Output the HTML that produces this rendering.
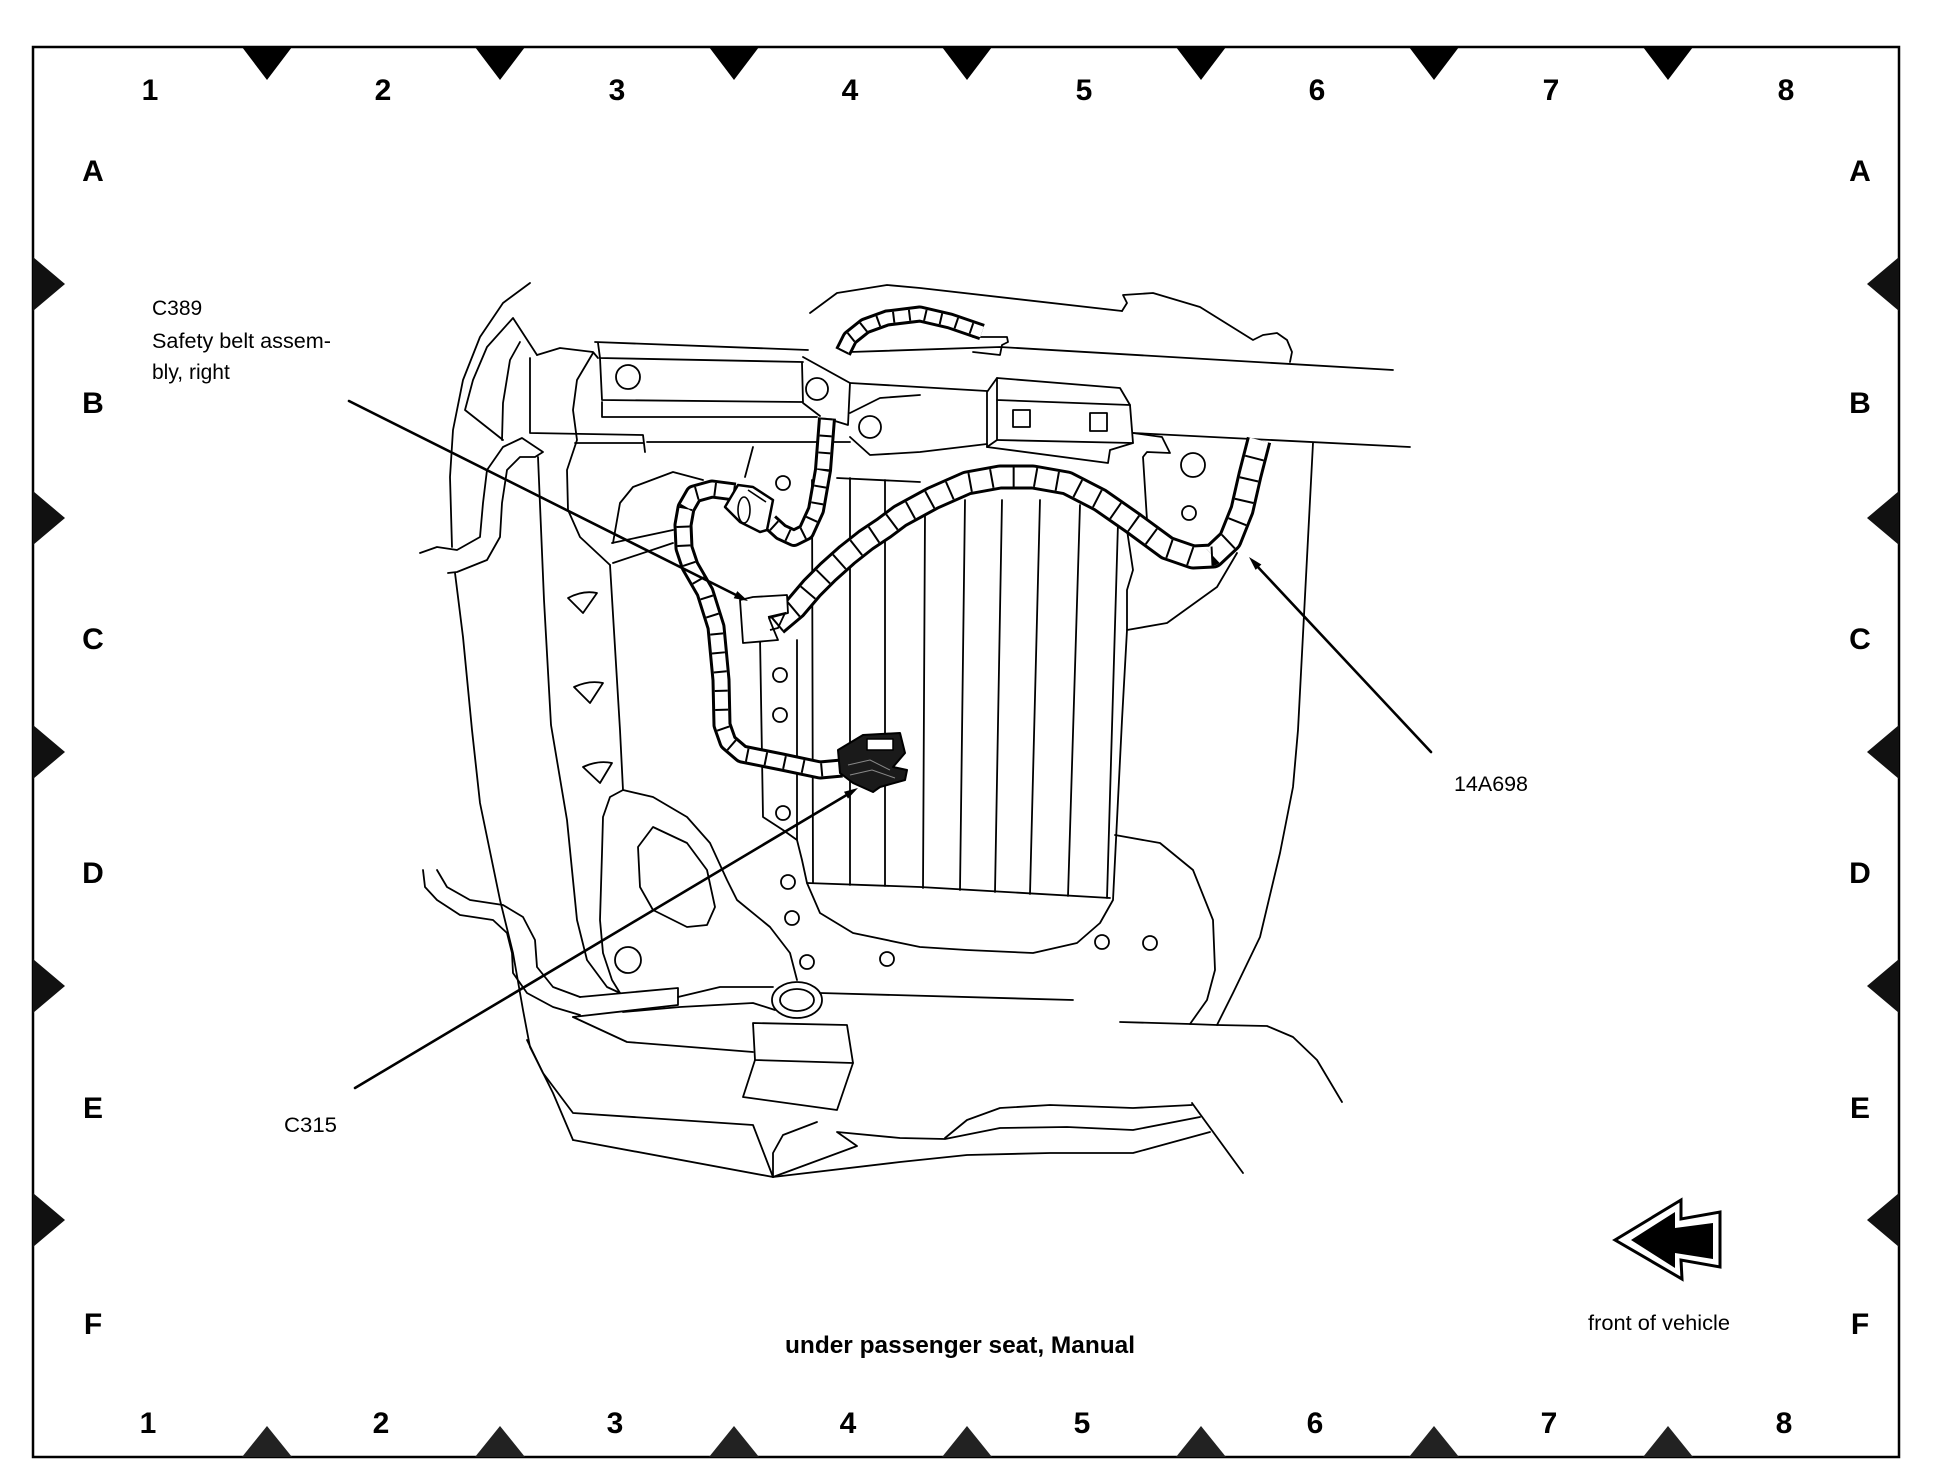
<!DOCTYPE html>
<html><head><meta charset="utf-8"><style>
html,body{margin:0;padding:0;background:#fff;}
svg{display:block;}
text{font-family:"Liberation Sans",Arial,sans-serif;fill:#000;}
.idx{font-size:30px;font-weight:bold;text-anchor:middle;}
.lab{font-size:21px;}
</style></head><body>
<svg width="1936" height="1472" viewBox="0 0 1936 1472" xmlns="http://www.w3.org/2000/svg">
<rect x="0" y="0" width="1936" height="1472" fill="#fff"/>
<!-- frame -->
<rect x="33" y="47" width="1866" height="1410" fill="none" stroke="#000" stroke-width="2.5"/>
<!-- top markers -->
<g fill="#000">
<polygon points="242,47 292,47 267,80"/><polygon points="475,47 525,47 500,80"/><polygon points="709,47 759,47 734,80"/><polygon points="942,47 992,47 967,80"/><polygon points="1176,47 1226,47 1201,80"/><polygon points="1409,47 1459,47 1434,80"/><polygon points="1643,47 1693,47 1668,80"/>
</g>
<g fill="#222">
<polygon points="242,1457 292,1457 267,1426"/><polygon points="475,1457 525,1457 500,1426"/><polygon points="709,1457 759,1457 734,1426"/><polygon points="942,1457 992,1457 967,1426"/><polygon points="1176,1457 1226,1457 1201,1426"/><polygon points="1409,1457 1459,1457 1434,1426"/><polygon points="1643,1457 1693,1457 1668,1426"/>
</g>
<g fill="#111">
<polygon points="33,257 33,311 65,284"/><polygon points="33,491 33,545 65,518"/><polygon points="33,725 33,779 65,752"/><polygon points="33,959 33,1013 65,986"/><polygon points="33,1193 33,1247 65,1220"/>
<polygon points="1899,257 1899,311 1867,284"/><polygon points="1899,491 1899,545 1867,518"/><polygon points="1899,725 1899,779 1867,752"/><polygon points="1899,959 1899,1013 1867,986"/><polygon points="1899,1193 1899,1247 1867,1220"/>
</g>
<!-- index labels -->
<g class="idx">
<text x="150" y="100" class="idx">1</text><text x="383" y="100" class="idx">2</text><text x="617" y="100" class="idx">3</text><text x="850" y="100" class="idx">4</text><text x="1084" y="100" class="idx">5</text><text x="1317" y="100" class="idx">6</text><text x="1551" y="100" class="idx">7</text><text x="1786" y="100" class="idx">8</text>
<text x="148" y="1433" class="idx">1</text><text x="381" y="1433" class="idx">2</text><text x="615" y="1433" class="idx">3</text><text x="848" y="1433" class="idx">4</text><text x="1082" y="1433" class="idx">5</text><text x="1315" y="1433" class="idx">6</text><text x="1549" y="1433" class="idx">7</text><text x="1784" y="1433" class="idx">8</text>
<text x="93" y="181" class="idx">A</text><text x="93" y="413" class="idx">B</text><text x="93" y="649" class="idx">C</text><text x="93" y="883" class="idx">D</text><text x="93" y="1118" class="idx">E</text><text x="93" y="1334" class="idx">F</text>
<text x="1860" y="181" class="idx">A</text><text x="1860" y="413" class="idx">B</text><text x="1860" y="649" class="idx">C</text><text x="1860" y="883" class="idx">D</text><text x="1860" y="1118" class="idx">E</text><text x="1860" y="1334" class="idx">F</text>
</g>

<!-- line art -->
<g fill="none" stroke="#000" stroke-width="1.8" stroke-linejoin="round" stroke-linecap="round">
<polyline points="595,342 808,350"/>
<polyline points="850,352 1000,347 1393,370"/>
<polyline points="598,343 600,358 803,362"/>
<polyline points="600,358 602,400 802,402"/>
<polyline points="602,402 602,417 817,417"/>
<circle cx="628" cy="377" r="12"/>
<polyline points="803,357 850,383 848,425 835,421"/>
<polyline points="820,416 803,403 802,363"/>
<circle cx="817" cy="389" r="11"/>
<polyline points="850,383 987,391"/>
<polyline points="850,413 880,398 920,395"/>
<polyline points="850,437 870,455 920,452 987,444"/>
<circle cx="870" cy="427" r="11"/>
<polygon points="987,392 997,378 1120,388 1130,405 1133,443 1110,450 1108,463 987,447"/>
<polyline points="997,378 997,400 1130,405"/>
<polyline points="997,400 997,440 987,447"/>
<polyline points="997,440 1133,443"/>
<rect x="1013" y="410" width="17" height="17"/>
<rect x="1090" y="413" width="17" height="18"/>
<polyline points="647,442 850,442"/>
<polyline points="1133,433 1410,447"/>
<polyline points="530,358 530,433 643,435 645,452"/>
<polyline points="575,443 643,443"/>
<polyline points="537,355 560,348 593,352 598,358"/>
<polyline points="593,353 577,380 573,410 577,440 567,470 568,510 580,537 610,565"/>
<polyline points="538,457 544,600 551,725 567,820 577,920 587,960 607,987 620,993"/>
<polyline points="610,565 620,730 623,790"/>
<polyline points="612,543 673,530"/>
<polyline points="613,563 673,543"/>
<polyline points="613,543 620,503 633,487 673,472 703,480"/>
<polyline points="530,283 503,303 480,337 463,380 453,430 450,477 452,547"/>
<polyline points="537,355 513,318 487,347 473,380 465,410 503,440"/>
<polyline points="520,342 510,360 503,403 502,440"/>
<polyline points="420,553 437,547 457,550 480,537 483,503 487,470 503,447 522,438 543,452 535,457 520,457 507,470 502,503 500,537 487,560 457,572 448,573"/>
<polyline points="455,573 463,637 472,730 480,803 500,900 513,953 523,1010 530,1047 553,1093 573,1140"/>
<polyline points="423,870 425,887 437,900 460,915 493,920 507,933 512,953 513,973 527,993 553,1007 580,1015"/>
<polyline points="437,870 447,887 470,900 503,905 523,917 535,940 537,967 553,987 580,997"/>
<polyline points="580,997 678,988 678,1005 573,1017"/>
<polyline points="678,997 720,987 773,987"/>
<ellipse cx="797" cy="1000" rx="25" ry="18"/>
<ellipse cx="797" cy="1000" rx="17" ry="11"/>
<polyline points="820,993 1073,1000"/>
<polyline points="623,1012 680,1007 753,1003 775,1010"/>
<polyline points="573,1017 627,1042 753,1052"/>
<polygon points="753,1023 847,1025 853,1063 755,1060"/>
<polyline points="755,1060 743,1097 837,1110 853,1063"/>
<polyline points="573,1140 773,1177 857,1146 837,1132 900,1138 945,1139 1000,1128 1067,1127 1133,1130 1200,1117"/>
<polyline points="527,1040 543,1073 573,1113 753,1125 773,1177"/>
<polyline points="817,1122 783,1135 773,1153 773,1177"/>
<polyline points="773,1177 900,1162 967,1155 1050,1153 1133,1153 1210,1132"/>
<polyline points="945,1138 967,1120 1000,1108 1050,1105 1133,1108 1192,1105"/>
<polyline points="1192,1103 1243,1173"/>
<polyline points="623,790 610,797 603,817 602,853 600,920 603,953 612,980 620,993"/>
<polyline points="623,790 653,797 687,817 710,843 727,880 737,900 770,927 790,953 797,980"/>
<polygon points="653,827 687,843 707,870 715,907 707,925 687,927 653,910 640,887 638,847"/>
<circle cx="628" cy="960" r="13"/>
<circle cx="783" cy="813" r="7"/><circle cx="788" cy="882" r="7"/><circle cx="792" cy="918" r="7"/>
<circle cx="807" cy="962" r="7"/><circle cx="887" cy="959" r="7"/><circle cx="1102" cy="942" r="7"/><circle cx="1150" cy="943" r="7"/>
<circle cx="783" cy="483" r="7"/><circle cx="780" cy="675" r="7"/><circle cx="780" cy="715" r="7"/>
<circle cx="1193" cy="465" r="12"/><circle cx="1189" cy="513" r="7"/>
<path d="M568,598 Q583,590 597,593 L583,613 Z"/>
<path d="M574,687 Q589,680 603,683 L590,703 Z"/>
<path d="M583,767 Q598,760 612,763 L600,783 Z"/>
<polyline points="760,637 763,817 783,830 797,840 802,860 807,883 820,913 853,933 920,947 967,950 1033,953 1077,943 1100,923 1113,900 1122,720 1127,630 1127,590 1133,570 1127,530"/>
<polyline points="1127,630 1167,623 1217,587 1237,553"/>
<polyline points="797,640 797,840"/>
<polyline points="812,480 813,883"/>
<polyline points="850,478 850,885"/>
<polyline points="885,480 885,886"/>
<polyline points="925,513 923,888"/>
<polyline points="965,500 960,890"/>
<polyline points="1002,500 995,892"/>
<polyline points="1040,500 1030,894"/>
<polyline points="1080,505 1068,896"/>
<polyline points="1118,523 1107,898"/>
<polyline points="807,883 920,887 1110,898"/>
<polyline points="837,478 920,482"/>
<polyline points="753,447 745,477"/>
<polyline points="1313,443 1298,730 1293,787 1280,853 1260,937 1233,993 1217,1025"/>
<polyline points="1120,1022 1190,1024 1217,1025 1267,1026 1293,1037 1317,1060 1342,1102"/>
<polyline points="1115,835 1160,843 1193,870 1213,920 1215,970 1207,1000 1190,1024"/>
<polyline points="1133,433 1162,437 1170,453 1147,452 1143,457 1147,520"/>
<polyline points="810,313 837,293 887,285 920,288 1122,311"/>
<polyline points="1122,311 1127,303 1123,295 1153,293 1200,307 1253,340 1263,335 1277,333 1287,340 1292,352 1290,362"/>
<polyline points="973,337 1007,337 1008,342 1002,345 1000,355 973,352"/>
</g>

<!-- wires -->
<g fill="none" stroke-linejoin="round">
<polyline points="776,624 795,608 812,588 828,572 847,555 866,540 884,528 900,516 933,498 967,483 1000,477 1033,477 1067,483 1100,500 1133,523 1167,548 1193,557 1213,556 1230,540 1242,510 1250,475 1259,440" stroke="#000" stroke-width="25"/>
<polyline points="776,624 795,608 812,588 828,572 847,555 866,540 884,528 900,516 933,498 967,483 1000,477 1033,477 1067,483 1100,500 1133,523 1167,548 1193,557 1213,556 1230,540 1242,510 1250,475 1259,440" stroke="#fff" stroke-width="19"/>
<polyline points="776,624 795,608 812,588 828,572 847,555 866,540 884,528 900,516 933,498 967,483 1000,477 1033,477 1067,483 1100,500 1133,523 1167,548 1193,557 1213,556 1230,540 1242,510 1250,475 1259,440" stroke="#000" stroke-width="19" stroke-dasharray="2 20"/>

<polyline points="735,492 712,489 694,494 686,508 683,525 684,548 690,566 705,592 716,627 721,680 722,725 728,742 742,754 782,762 820,770 842,768" stroke="#000" stroke-width="19"/>
<polyline points="735,492 712,489 694,494 686,508 683,525 684,548 690,566 705,592 716,627 721,680 722,725 728,742 742,754 782,762 820,770 842,768" stroke="#fff" stroke-width="13"/>
<polyline points="735,492 712,489 694,494 686,508 683,525 684,548 690,566 705,592 716,627 721,680 722,725 728,742 742,754 782,762 820,770 842,768" stroke="#000" stroke-width="13" stroke-dasharray="2 17"/>

<polyline points="827,418 823,470 816,510 806,532 794,538 781,532 770,522" stroke="#000" stroke-width="18"/>
<polyline points="827,418 823,470 816,510 806,532 794,538 781,532 770,522" stroke="#fff" stroke-width="12"/>
<polyline points="827,418 823,470 816,510 806,532 794,538 781,532 770,522" stroke="#000" stroke-width="12" stroke-dasharray="2 15"/>

<polyline points="843,352 850,338 865,326 887,318 920,314 950,321 982,332" stroke="#000" stroke-width="17"/>
<polyline points="843,352 850,338 865,326 887,318 920,314 950,321 982,332" stroke="#fff" stroke-width="11"/>
<polyline points="843,352 850,338 865,326 887,318 920,314 950,321 982,332" stroke="#000" stroke-width="11" stroke-dasharray="2 14"/>
</g>

<!-- small connector near C389 -->
<g stroke="#000" stroke-width="2.5" stroke-linejoin="round">
<polygon points="725,507 738,485 753,487 773,500 770,515 767,530 760,532 740,522" fill="#fff"/>
<ellipse cx="744" cy="510" rx="6" ry="13" fill="none" stroke-width="1.6"/>
<polyline points="748,490 766,502" fill="none" stroke-width="1.6"/>
</g>
<!-- C389 box -->
<polygon points="740,600 753,597 787,595 788,613 769,618 773,628 778,640 743,643" fill="#fff" stroke="#000" stroke-width="1.8" stroke-linejoin="round"/>
<polyline points="768,617 785,613 778,628 770,630" fill="none" stroke="#000" stroke-width="1.8"/>

<!-- C315 connector -->
<g stroke="#000" stroke-linejoin="round">
<polygon points="838,750 863,735 900,733 905,753 893,767 907,770 905,780 880,787 873,792 853,783 840,773" fill="#1a1a1a" stroke-width="2"/>
<rect x="867" y="739" width="26" height="11" fill="#fff" stroke-width="1.5"/>
<polyline points="848,765 870,760 890,770" fill="none" stroke="#888" stroke-width="1"/>
<polyline points="850,775 872,770 895,778" fill="none" stroke="#888" stroke-width="1"/>
</g>

<!-- leaders -->
<g stroke="#000" stroke-width="2.6" fill="none" stroke-linecap="round">
<line x1="349" y1="401" x2="740" y2="597"/>
<line x1="1431" y1="752" x2="1256" y2="565"/>
<line x1="355" y1="1088" x2="850" y2="793"/>
</g>
<g fill="#000">
<polygon points="748,601 733.7,598.3 737.3,591.1"/>
<polygon points="1249,557 1261.4,564.5 1255.6,569.9"/>
<polygon points="858,788 848,798.6 844,791.8"/>
</g>

<!-- labels -->
<text x="152" y="315" class="lab">C389</text>
<text x="152" y="348" class="lab" textLength="179" lengthAdjust="spacingAndGlyphs">Safety belt assem-</text>
<text x="152" y="379" class="lab">bly, right</text>
<text x="1454" y="791" class="lab" textLength="74" lengthAdjust="spacingAndGlyphs">14A698</text>
<text x="284" y="1132" class="lab" textLength="53" lengthAdjust="spacingAndGlyphs">C315</text>
<text x="1588" y="1330" class="lab" textLength="142" lengthAdjust="spacingAndGlyphs">front of vehicle</text>
<text x="785" y="1353" style="font-size:24px;font-weight:bold" textLength="350" lengthAdjust="spacingAndGlyphs">under passenger seat, Manual</text>

<!-- front arrow -->
<polygon points="1615,1240 1681,1200 1681,1219 1720,1212 1720,1267 1681,1260 1682,1279" fill="#fff" stroke="#000" stroke-width="3" stroke-linejoin="miter"/>
<polygon points="1631,1240 1675,1212 1675,1228 1713,1223 1713,1259 1675,1253 1675,1268" fill="#000"/>
</svg>
</body></html>
